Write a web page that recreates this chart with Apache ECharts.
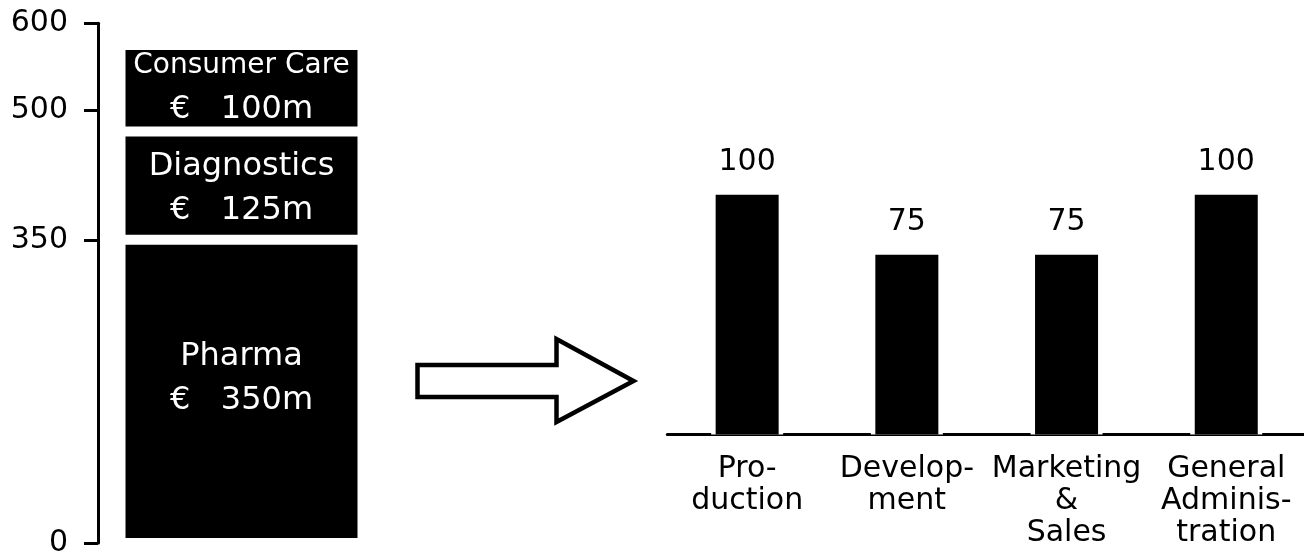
<!DOCTYPE html>
<html>
<head>
<meta charset="utf-8">
<script src="https://cdn.jsdelivr.net/npm/echarts@6/dist/echarts.min.js"></script>
<style>
  html, body { margin: 0; padding: 0; background: #ffffff; }
  #chart { width: 1304px; height: 553px; }
</style>
</head>
<body>
<div id="chart"></div>
<script>
// Revenue by division, € m (stacked column)
const divisions = ['Pharma', 'Diagnostics', 'Consumer Care'];
const divisionRevenue = [350, 125, 100];
const revenueTicks = [0, 350, 500, 600];

// Cost split by function
const functions = ['Pro-\nduction', 'Develop-\nment', 'Marketing\n&\nSales', 'General\nAdminis-\ntration'];
const functionCost = [100, 75, 75, 100];

const FONT = 'DejaVu Sans';
const chart = echarts.init(document.getElementById('chart'), null, { renderer: 'canvas' });

// name style per division label (the long name gets a smaller size)
const nameStyle = { 'Pharma': 'n', 'Diagnostics': 'n', 'Consumer Care': 's' };
const labelShift = { 'Pharma': -13, 'Diagnostics': 3, 'Consumer Care': -1 };

const divisionSeries = divisions.map(function (name, i) {
  return {
    name: name,
    type: 'bar',
    stack: 'revenue',
    xAxisIndex: 0,
    yAxisIndex: 0,
    barWidth: 242,
    data: [divisionRevenue[i]],
    itemStyle: { color: '#000', borderColor: '#fff', borderWidth: 5 },
    label: {
      show: true,
      position: 'inside',
      offset: [0, labelShift[name]],
      fontFamily: FONT,
      color: '#fff',
      formatter: function () {
        return '{' + nameStyle[name] + '|' + name + '}\n{v|€   ' + divisionRevenue[i] + 'm}';
      },
      rich: {
        n: { fontFamily: FONT, fontSize: 32, lineHeight: 44, color: '#fff' },
        s: { fontFamily: FONT, fontSize: 28, lineHeight: 44, color: '#fff' },
        v: { fontFamily: FONT, fontSize: 32, lineHeight: 44, color: '#fff' }
      }
    },
    silent: true
  };
});

const option = {
  animation: false,
  backgroundColor: '#ffffff',
  textStyle: { fontFamily: FONT },
  grid: [
    { left: 98, width: 287, top: 23.3, bottom: 10, outerBoundsMode: 'none', containLabel: false },
    { left: 667.3, right: -2.1, top: 194.8, bottom: 118.5, outerBoundsMode: 'none', containLabel: false }
  ],
  xAxis: [
    {
      gridIndex: 0, type: 'category', data: [''],
      axisLine: { show: false }, axisTick: { show: false }, axisLabel: { show: false }
    },
    {
      gridIndex: 1, type: 'category', data: functions,
      axisLine: { show: true, lineStyle: { color: '#000', width: 3 } },
      axisTick: { show: false },
      axisLabel: {
        interval: 0, margin: 19, color: '#000', fontFamily: FONT,
        fontSize: 30, lineHeight: 32, align: 'center'
      }
    },
    {
      // twin axis carrying the white backing bars that break the baseline
      gridIndex: 1, type: 'category', data: functions, show: false
    }
  ],
  yAxis: [
    {
      gridIndex: 0, type: 'value', min: 0, max: 600,
      axisLine: { show: true, lineStyle: { color: '#000', width: 3 } },
      axisTick: { show: true, customValues: revenueTicks, length: 14, lineStyle: { color: '#000', width: 3 } },
      axisLabel: { customValues: revenueTicks, margin: 30, color: '#000', fontFamily: FONT, fontSize: 30 },
      splitLine: { show: false }
    },
    {
      gridIndex: 1, type: 'value', min: 0, max: 100, show: false,
      splitLine: { show: false }
    }
  ],
  series: divisionSeries.concat([
    {
      name: 'gap',
      type: 'bar',
      xAxisIndex: 2,
      yAxisIndex: 1,
      barWidth: 72,
      z: 2,
      data: functionCost,
      itemStyle: { color: '#fff', borderColor: '#fff', borderWidth: 4 },
      silent: true
    },
    {
      name: 'cost',
      type: 'bar',
      xAxisIndex: 1,
      yAxisIndex: 1,
      barWidth: 63,
      z: 3,
      data: functionCost,
      itemStyle: { color: '#000', borderColor: '#000', borderWidth: 3 },
      label: {
        show: true, position: 'top', distance: 18,
        color: '#000', fontFamily: FONT, fontSize: 30
      },
      silent: true
    }
  ]),
  graphic: [
    {
      type: 'polygon',
      silent: true,
      shape: {
        points: [
          [417.5, 365], [556.5, 365], [556.5, 339], [633.5, 381],
          [556.5, 422], [556.5, 397], [417.5, 397]
        ]
      },
      style: { fill: '#fff', stroke: '#000', lineWidth: 4.5, lineJoin: 'miter' }
    }
  ]
};

chart.setOption(option);
</script>
</body>
</html>
